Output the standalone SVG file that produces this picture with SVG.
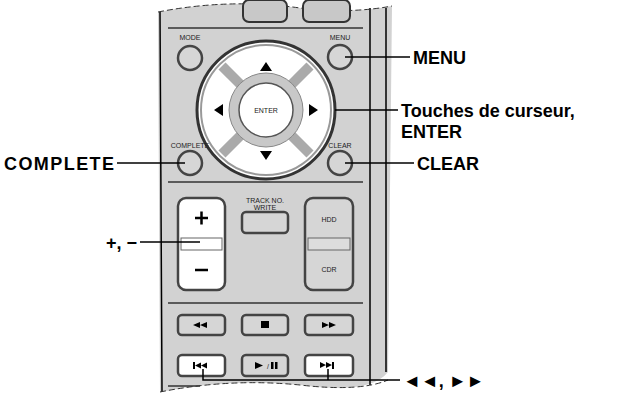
<svg xmlns="http://www.w3.org/2000/svg" width="618" height="403" viewBox="0 0 618 403">
<style>
.b{fill:#c8c8c8;stroke:#333;stroke-width:2}
.w{fill:#fff;stroke:#444;stroke-width:2.5}
.g{fill:#d6d6d6;stroke:#444;stroke-width:2.5}
.l{stroke:#000;stroke-width:1.5;fill:none}
.s{font-family:"Liberation Sans",Arial,sans-serif;font-size:7px;fill:#222;text-anchor:middle}
.t{font-family:"Liberation Sans",Arial,sans-serif;font-size:18px;font-weight:bold;fill:#000}
</style>
<rect width="618" height="403" fill="#fff"/>
<g id="remote">
<path d="M158 12 Q230 -2 300 8 Q350 14 392 6 L388 372 Q370 395 300 385 Q230 378 160 392 Z" fill="#d2d2d2" stroke="none"/>
<path d="M160 12 L162 392 M370 8 L370 385 M386 8 L386 372" class="l" stroke="#333"/>
<path d="M158 12 Q230 -2 300 8 Q350 14 392 6 M160 392 Q230 378 300 385 Q360 392 388 380" stroke="#333" stroke-dasharray="6 3" fill="none"/>
<rect x="243" y="0" width="44" height="22" rx="6" class="b"/>
<rect x="303" y="0" width="47" height="22" rx="6" class="b"/>
<line x1="168" y1="28" x2="363" y2="28" stroke="#333" stroke-width="1.5"/>
<text x="190" y="40" class="s">MODE</text><circle cx="190" cy="58" r="12" class="g"/>
<text x="340" y="40" class="s">MENU</text><circle cx="340" cy="57" r="12" class="g"/>
<circle cx="266" cy="110" r="69" fill="#fff" stroke="#333" stroke-width="3"/>
<circle cx="266" cy="110" r="65" fill="none" stroke="#999" stroke-width="2"/>
<g stroke="#aaa" stroke-width="10"><line x1="222" y1="66" x2="310" y2="154"/><line x1="310" y1="66" x2="222" y2="154"/></g>
<circle cx="266" cy="110" r="37" fill="#c8c8c8" stroke="#888"/>
<circle cx="266" cy="110" r="27" fill="#fff" stroke="#555" stroke-width="1.5"/>
<text x="266" y="113" class="s" font-size="8">ENTER</text>
<path d="M260 71 L272 71 L266 62 Z M260 151 L272 151 L266 160 Z M223 104 L223 116 L214 110 Z M309 104 L309 116 L318 110 Z" fill="#000"/>
<text x="190" y="148" class="s" font-size="6">COMPLETE</text><circle cx="190" cy="163" r="12" class="g"/>
<text x="340" y="148" class="s">CLEAR</text><circle cx="340" cy="163" r="12" class="g"/>
<line x1="168" y1="182" x2="363" y2="182" stroke="#333" stroke-width="1.5"/>
<rect x="178" y="198" width="47" height="92" rx="8" class="w"/>
<rect x="181" y="238" width="41" height="12" fill="#fff" stroke="#666"/>
<path d="M195 218 h13 M201.5 211.5 v13 M195 270 h13" stroke="#000" stroke-width="2.5"/>
<text x="265" y="203" class="s">TRACK NO.</text><text x="265" y="210" class="s">WRITE</text>
<rect x="242" y="212" width="46" height="21" rx="4" class="g"/>
<rect x="305" y="198" width="48" height="92" rx="8" class="g"/>
<rect x="308" y="238" width="42" height="12" fill="#ddd" stroke="#666"/>
<text x="329" y="222" class="s">HDD</text><text x="329" y="272" class="s">CDR</text>
<line x1="168" y1="303" x2="363" y2="303" stroke="#333" stroke-width="1.5"/>
<rect x="178" y="315" width="47" height="20" rx="4" class="g"/>
<rect x="242" y="315" width="46" height="20" rx="4" class="g"/>
<rect x="305" y="315" width="48" height="20" rx="4" class="g"/>
<rect x="178" y="355" width="47" height="21" rx="4" class="w"/>
<rect x="242" y="355" width="46" height="21" rx="4" class="g"/>
<rect x="305" y="355" width="48" height="21" rx="4" class="w"/>
<g fill="#000">
<path d="M193 325 l7 -3 v6 Z M200 325 l7 -3 v6 Z"/>
<rect x="261" y="321" width="8" height="7"/>
<path d="M322 322 l7 3 l-7 3 Z M329 322 l7 3 l-7 3 Z"/>
<rect x="193" y="362" width="2" height="7"/><path d="M195 365.5 l6 -3 v6 Z M201 365.5 l6 -3 v6 Z"/>
<path d="M255 362 l8 3.5 l-8 3.5 Z"/><text x="268" y="369" class="s" font-size="8">/</text><rect x="271" y="362" width="2.5" height="7"/><rect x="275" y="362" width="2.5" height="7"/>
<path d="M320 362 l6 3 l-6 3 Z M326 362 l6 3 l-6 3 Z"/><rect x="332" y="362" width="2" height="7"/>
</g>
</g>
<g id="connectors" class="l">
<line x1="345" y1="57" x2="410" y2="57"/>
<line x1="335" y1="110" x2="398" y2="110"/>
<line x1="345" y1="163" x2="414" y2="163"/>
<line x1="117" y1="163" x2="185" y2="163"/>
<line x1="140" y1="242" x2="200" y2="242"/>
<path d="M203 369 V380 H400 M328 369 V380"/>
<line x1="168" y1="386" x2="200" y2="386" stroke="#333"/>
</g>
<g id="labels">
<text x="413" y="64" class="t">MENU</text>
<text x="401" y="117" class="t">Touches de curseur,</text>
<text x="401" y="138" class="t">ENTER</text>
<text x="417" y="170" class="t">CLEAR</text>
<text x="4" y="170" class="t" textLength="110">COMPLETE</text>
<text x="106" y="249" class="t">+, −</text>
<text x="403" y="387" class="t">◄◄, ►►</text>
</g>
</svg>
